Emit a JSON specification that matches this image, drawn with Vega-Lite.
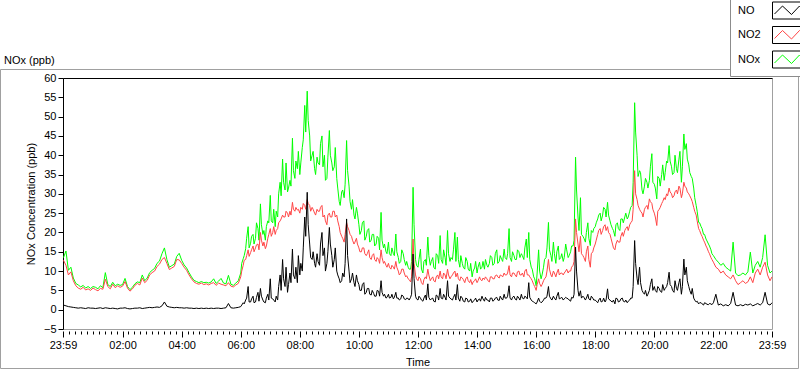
{
"$schema": "https://vega.github.io/schema/vega-lite/v6.json",
"width": 709, "height": 251,
"autosize": "none",
"padding": {"left": 63, "top": 78, "right": 28, "bottom": 40},
"background": "white",
"config": {"view": {"stroke": "#a0a0a0"}, "font": "Liberation Sans"},
"title": {"text": "NOx (ppb)", "anchor": "start", "frame": "group", "dx": -59, "dy": 78, "offset": 0, "fontSize": 11, "fontWeight": "normal", "baseline": "bottom", "color": "black"},
"data": {"format": {"parse": {"t": "date:'%H:%M'"}}, "values": [
{"t":"00:00","NO":1.2,"NO2":12.8,"NOx":13.5},{"t":"00:05","NO":1.0,"NO2":11.5,"NOx":15.2},{"t":"00:10","NO":0.8,"NO2":9.0,"NOx":10.2},{"t":"00:15","NO":0.7,"NO2":9.8,"NOx":11.0},{"t":"00:20","NO":0.6,"NO2":7.5,"NOx":8.2},{"t":"00:25","NO":0.5,"NO2":6.2,"NOx":6.8},{"t":"00:30","NO":0.4,"NO2":5.6,"NOx":6.4},{"t":"00:35","NO":0.5,"NO2":5.3,"NOx":5.9},{"t":"00:40","NO":0.4,"NO2":5.8,"NOx":6.3},{"t":"00:45","NO":0.3,"NO2":5.1,"NOx":5.6},{"t":"00:50","NO":0.5,"NO2":5.4,"NOx":6.0},{"t":"00:55","NO":0.4,"NO2":5.0,"NOx":5.5},
{"t":"01:00","NO":0.4,"NO2":5.6,"NOx":6.0},{"t":"01:05","NO":0.3,"NO2":5.2,"NOx":5.8},{"t":"01:10","NO":0.4,"NO2":4.9,"NOx":5.4},{"t":"01:15","NO":0.5,"NO2":5.5,"NOx":6.2},{"t":"01:20","NO":0.3,"NO2":5.3,"NOx":5.7},{"t":"01:25","NO":0.5,"NO2":7.9,"NOx":9.6},{"t":"01:30","NO":0.4,"NO2":6.0,"NOx":6.5},{"t":"01:35","NO":0.3,"NO2":5.4,"NOx":6.0},{"t":"01:40","NO":0.4,"NO2":6.6,"NOx":7.1},{"t":"01:45","NO":0.3,"NO2":5.7,"NOx":6.2},{"t":"01:50","NO":0.2,"NO2":6.2,"NOx":6.6},{"t":"01:55","NO":0.4,"NO2":5.8,"NOx":6.3},
{"t":"02:00","NO":0.4,"NO2":6.1,"NOx":6.5},{"t":"02:05","NO":0.5,"NO2":7.3,"NOx":8.1},{"t":"02:10","NO":0.3,"NO2":5.6,"NOx":6.0},{"t":"02:15","NO":0.2,"NO2":4.8,"NOx":5.2},{"t":"02:20","NO":0.3,"NO2":5.4,"NOx":5.8},{"t":"02:25","NO":0.4,"NO2":6.3,"NOx":6.7},{"t":"02:30","NO":0.4,"NO2":6.8,"NOx":7.2},{"t":"02:35","NO":0.5,"NO2":6.4,"NOx":7.0},{"t":"02:40","NO":0.3,"NO2":8.2,"NOx":9.0},{"t":"02:45","NO":0.4,"NO2":7.0,"NOx":7.5},{"t":"02:50","NO":0.5,"NO2":7.6,"NOx":8.2},{"t":"02:55","NO":0.6,"NO2":9.0,"NOx":9.6},
{"t":"03:00","NO":0.5,"NO2":9.6,"NOx":10.2},{"t":"03:05","NO":0.6,"NO2":10.0,"NOx":10.7},{"t":"03:10","NO":0.7,"NO2":11.2,"NOx":12.0},{"t":"03:15","NO":0.6,"NO2":11.8,"NOx":12.6},{"t":"03:20","NO":1.0,"NO2":13.0,"NOx":14.5},{"t":"03:25","NO":2.0,"NO2":13.5,"NOx":16.0},{"t":"03:30","NO":0.9,"NO2":12.0,"NOx":13.0},{"t":"03:35","NO":0.7,"NO2":10.4,"NOx":11.0},{"t":"03:40","NO":0.6,"NO2":10.8,"NOx":11.4},{"t":"03:45","NO":0.5,"NO2":11.2,"NOx":11.8},{"t":"03:50","NO":0.6,"NO2":13.0,"NOx":13.8},{"t":"03:55","NO":0.5,"NO2":12.9,"NOx":14.6},
{"t":"04:00","NO":0.5,"NO2":12.0,"NOx":12.8},{"t":"04:05","NO":0.4,"NO2":11.0,"NOx":11.6},{"t":"04:10","NO":0.5,"NO2":10.2,"NOx":10.8},{"t":"04:15","NO":0.4,"NO2":9.0,"NOx":9.6},{"t":"04:20","NO":0.4,"NO2":8.0,"NOx":8.5},{"t":"04:25","NO":0.3,"NO2":7.2,"NOx":7.6},{"t":"04:30","NO":0.4,"NO2":6.8,"NOx":7.3},{"t":"04:35","NO":0.3,"NO2":6.6,"NOx":7.0},{"t":"04:40","NO":0.4,"NO2":6.9,"NOx":7.3},{"t":"04:45","NO":0.3,"NO2":6.5,"NOx":7.0},{"t":"04:50","NO":0.4,"NO2":6.7,"NOx":7.1},{"t":"04:55","NO":0.3,"NO2":6.4,"NOx":6.9},
{"t":"05:00","NO":0.4,"NO2":6.8,"NOx":7.2},{"t":"05:05","NO":0.3,"NO2":7.0,"NOx":8.0},{"t":"05:10","NO":0.4,"NO2":6.3,"NOx":6.8},{"t":"05:15","NO":0.4,"NO2":6.9,"NOx":7.4},{"t":"05:20","NO":0.3,"NO2":6.6,"NOx":8.1},{"t":"05:25","NO":0.4,"NO2":6.4,"NOx":6.9},{"t":"05:30","NO":0.5,"NO2":6.2,"NOx":6.7},{"t":"05:35","NO":1.6,"NO2":7.0,"NOx":8.9},{"t":"05:40","NO":0.5,"NO2":6.1,"NOx":6.6},{"t":"05:45","NO":0.4,"NO2":5.9,"NOx":6.3},{"t":"05:50","NO":0.5,"NO2":6.4,"NOx":6.9},{"t":"05:55","NO":0.6,"NO2":6.8,"NOx":7.5},
{"t":"06:00","NO":0.8,"NO2":8.5,"NOx":9.5},{"t":"06:05","NO":1.8,"NO2":11.5,"NOx":13.2},{"t":"06:10","NO":2.5,"NO2":13.0,"NOx":15.8},{"t":"06:15","NO":6.0,"NO2":15.5,"NOx":21.5},{"t":"06:20","NO":2.0,"NO2":14.8,"NOx":17.2},{"t":"06:25","NO":3.5,"NO2":16.5,"NOx":19.5},{"t":"06:30","NO":2.0,"NO2":16.0,"NOx":18.5},{"t":"06:35","NO":4.5,"NO2":17.0,"NOx":21.0},{"t":"06:40","NO":5.5,"NO2":20.0,"NOx":27.4},{"t":"06:45","NO":2.5,"NO2":16.5,"NOx":19.5},{"t":"06:50","NO":1.8,"NO2":15.8,"NOx":18.0},{"t":"06:55","NO":4.0,"NO2":18.5,"NOx":23.0},
{"t":"07:00","NO":8.0,"NO2":21.0,"NOx":29.6},{"t":"07:05","NO":2.8,"NO2":20.0,"NOx":22.5},{"t":"07:10","NO":2.0,"NO2":19.5,"NOx":21.5},{"t":"07:15","NO":2.5,"NO2":21.0,"NOx":24.0},{"t":"07:20","NO":9.0,"NO2":23.0,"NOx":33.0},{"t":"07:25","NO":13.0,"NO2":24.5,"NOx":39.0},{"t":"07:30","NO":6.0,"NO2":24.0,"NOx":31.0},{"t":"07:35","NO":4.5,"NO2":25.0,"NOx":30.5},{"t":"07:40","NO":9.5,"NO2":25.5,"NOx":33.5},{"t":"07:45","NO":15.7,"NO2":27.8,"NOx":44.4},{"t":"07:50","NO":8.0,"NO2":25.5,"NOx":34.0},{"t":"07:55","NO":7.0,"NO2":25.8,"NOx":36.5},
{"t":"08:00","NO":9.0,"NO2":25.0,"NOx":35.0},{"t":"08:05","NO":10.0,"NO2":26.0,"NOx":42.0},{"t":"08:10","NO":24.0,"NO2":27.0,"NOx":52.9},{"t":"08:15","NO":30.4,"NO2":28.5,"NOx":56.6},{"t":"08:20","NO":17.0,"NO2":27.0,"NOx":45.0},{"t":"08:25","NO":13.0,"NO2":26.5,"NOx":40.0},{"t":"08:30","NO":12.0,"NO2":25.0,"NOx":36.5},{"t":"08:35","NO":14.5,"NO2":26.0,"NOx":39.5},{"t":"08:40","NO":11.5,"NO2":25.5,"NOx":37.5},{"t":"08:45","NO":20.0,"NO2":27.0,"NOx":45.0},{"t":"08:50","NO":16.0,"NO2":24.5,"NOx":40.0},{"t":"08:55","NO":12.0,"NO2":22.0,"NOx":34.0},
{"t":"09:00","NO":21.3,"NO2":25.0,"NOx":46.4},{"t":"09:05","NO":14.0,"NO2":24.0,"NOx":38.0},{"t":"09:10","NO":13.0,"NO2":25.5,"NOx":37.0},{"t":"09:15","NO":10.0,"NO2":24.5,"NOx":34.0},{"t":"09:20","NO":8.0,"NO2":21.5,"NOx":28.0},{"t":"09:25","NO":7.5,"NO2":19.0,"NOx":30.5},{"t":"09:30","NO":8.5,"NO2":17.5,"NOx":29.0},{"t":"09:35","NO":23.5,"NO2":22.6,"NOx":43.8},{"t":"09:40","NO":10.0,"NO2":20.5,"NOx":32.0},{"t":"09:45","NO":8.0,"NO2":19.0,"NOx":26.0},{"t":"09:50","NO":7.0,"NO2":17.0,"NOx":24.5},{"t":"09:55","NO":9.0,"NO2":18.5,"NOx":26.5},
{"t":"10:00","NO":6.5,"NO2":16.0,"NOx":22.0},{"t":"10:05","NO":5.0,"NO2":15.0,"NOx":20.5},{"t":"10:10","NO":7.0,"NO2":16.0,"NOx":23.0},{"t":"10:15","NO":4.5,"NO2":14.0,"NOx":19.0},{"t":"10:20","NO":5.5,"NO2":15.5,"NOx":21.0},{"t":"10:25","NO":3.8,"NO2":13.0,"NOx":18.0},{"t":"10:30","NO":4.2,"NO2":14.5,"NOx":19.5},{"t":"10:35","NO":3.5,"NO2":12.5,"NOx":17.0},{"t":"10:40","NO":4.8,"NO2":13.0,"NOx":18.5},{"t":"10:45","NO":7.5,"NO2":15.5,"NOx":25.2},{"t":"10:50","NO":3.5,"NO2":12.0,"NOx":16.0},{"t":"10:55","NO":3.0,"NO2":11.5,"NOx":15.0},
{"t":"11:00","NO":4.0,"NO2":12.0,"NOx":17.5},{"t":"11:05","NO":3.2,"NO2":10.5,"NOx":14.0},{"t":"11:10","NO":2.8,"NO2":11.0,"NOx":14.5},{"t":"11:15","NO":4.5,"NO2":12.5,"NOx":19.6},{"t":"11:20","NO":3.0,"NO2":10.0,"NOx":13.5},{"t":"11:25","NO":2.8,"NO2":9.5,"NOx":12.5},{"t":"11:30","NO":3.5,"NO2":10.5,"NOx":14.5},{"t":"11:35","NO":2.6,"NO2":8.5,"NOx":11.5},{"t":"11:40","NO":2.9,"NO2":8.0,"NOx":11.0},{"t":"11:45","NO":3.2,"NO2":7.2,"NOx":10.5},{"t":"11:50","NO":14.4,"NO2":18.3,"NOx":31.7},{"t":"11:55","NO":3.5,"NO2":9.0,"NOx":13.0},
{"t":"12:00","NO":2.5,"NO2":7.5,"NOx":11.0},{"t":"12:05","NO":3.0,"NO2":8.0,"NOx":15.7},{"t":"12:10","NO":2.2,"NO2":6.5,"NOx":9.5},{"t":"12:15","NO":3.8,"NO2":8.5,"NOx":13.0},{"t":"12:20","NO":6.7,"NO2":10.5,"NOx":18.8},{"t":"12:25","NO":2.5,"NO2":7.5,"NOx":11.5},{"t":"12:30","NO":3.0,"NO2":8.5,"NOx":13.5},{"t":"12:35","NO":2.0,"NO2":7.2,"NOx":10.5},{"t":"12:40","NO":3.5,"NO2":9.0,"NOx":14.0},{"t":"12:45","NO":5.5,"NO2":10.0,"NOx":19.2},{"t":"12:50","NO":2.8,"NO2":8.0,"NOx":12.0},{"t":"12:55","NO":3.2,"NO2":9.0,"NOx":13.5},
{"t":"13:00","NO":7.5,"NO2":10.5,"NOx":20.5},{"t":"13:05","NO":3.0,"NO2":8.0,"NOx":12.5},{"t":"13:10","NO":2.5,"NO2":9.0,"NOx":13.0},{"t":"13:15","NO":4.0,"NO2":10.0,"NOx":20.0},{"t":"13:20","NO":6.5,"NO2":9.5,"NOx":18.8},{"t":"13:25","NO":2.2,"NO2":7.5,"NOx":11.0},{"t":"13:30","NO":3.0,"NO2":8.2,"NOx":12.0},{"t":"13:35","NO":2.0,"NO2":7.0,"NOx":10.5},{"t":"13:40","NO":2.8,"NO2":8.5,"NOx":12.5},{"t":"13:45","NO":2.2,"NO2":7.0,"NOx":10.0},{"t":"13:50","NO":1.8,"NO2":6.5,"NOx":8.5},{"t":"13:55","NO":2.5,"NO2":7.5,"NOx":10.8},
{"t":"14:00","NO":2.0,"NO2":7.0,"NOx":9.5},{"t":"14:05","NO":2.8,"NO2":8.5,"NOx":12.3},{"t":"14:10","NO":3.5,"NO2":7.5,"NOx":11.0},{"t":"14:15","NO":2.2,"NO2":7.8,"NOx":10.5},{"t":"14:20","NO":2.5,"NO2":8.0,"NOx":11.5},{"t":"14:25","NO":2.0,"NO2":7.2,"NOx":12.0},{"t":"14:30","NO":3.0,"NO2":8.5,"NOx":13.5},{"t":"14:35","NO":2.5,"NO2":8.0,"NOx":12.0},{"t":"14:40","NO":3.2,"NO2":9.0,"NOx":15.5},{"t":"14:45","NO":2.4,"NO2":8.2,"NOx":12.5},{"t":"14:50","NO":2.8,"NO2":8.8,"NOx":13.0},{"t":"14:55","NO":4.0,"NO2":9.5,"NOx":15.7},
{"t":"15:00","NO":3.0,"NO2":9.0,"NOx":13.0},{"t":"15:05","NO":6.2,"NO2":11.4,"NOx":21.0},{"t":"15:10","NO":2.5,"NO2":8.5,"NOx":12.5},{"t":"15:15","NO":3.5,"NO2":9.5,"NOx":14.0},{"t":"15:20","NO":2.5,"NO2":8.5,"NOx":13.0},{"t":"15:25","NO":3.0,"NO2":10.0,"NOx":15.0},{"t":"15:30","NO":4.0,"NO2":9.0,"NOx":14.5},{"t":"15:35","NO":2.8,"NO2":8.5,"NOx":13.0},{"t":"15:40","NO":3.2,"NO2":10.5,"NOx":18.3},{"t":"15:45","NO":7.0,"NO2":9.0,"NOx":20.0},{"t":"15:50","NO":2.5,"NO2":8.0,"NOx":11.0},{"t":"15:55","NO":2.0,"NO2":6.5,"NOx":8.5},
{"t":"16:00","NO":1.5,"NO2":5.0,"NOx":6.2},{"t":"16:05","NO":3.0,"NO2":8.0,"NOx":15.5},{"t":"16:10","NO":1.8,"NO2":6.0,"NOx":8.0},{"t":"16:15","NO":2.5,"NO2":7.5,"NOx":11.0},{"t":"16:20","NO":3.0,"NO2":8.5,"NOx":13.5},{"t":"16:25","NO":6.0,"NO2":13.0,"NOx":22.6},{"t":"16:30","NO":2.8,"NO2":9.0,"NOx":14.0},{"t":"16:35","NO":3.5,"NO2":10.0,"NOx":17.5},{"t":"16:40","NO":2.5,"NO2":8.5,"NOx":12.0},{"t":"16:45","NO":4.5,"NO2":10.5,"NOx":16.5},{"t":"16:50","NO":3.0,"NO2":9.5,"NOx":13.5},{"t":"16:55","NO":2.5,"NO2":9.0,"NOx":12.5},
{"t":"17:00","NO":3.2,"NO2":10.0,"NOx":17.0},{"t":"17:05","NO":2.8,"NO2":9.5,"NOx":13.5},{"t":"17:10","NO":2.2,"NO2":10.0,"NOx":15.0},{"t":"17:15","NO":3.0,"NO2":11.5,"NOx":16.5},{"t":"17:20","NO":16.2,"NO2":23.5,"NOx":39.5},{"t":"17:25","NO":5.0,"NO2":17.0,"NOx":24.0},{"t":"17:30","NO":4.9,"NO2":19.0,"NOx":29.0},{"t":"17:35","NO":3.5,"NO2":14.0,"NOx":19.0},{"t":"17:40","NO":2.5,"NO2":12.5,"NOx":17.5},{"t":"17:45","NO":4.0,"NO2":16.5,"NOx":22.5},{"t":"17:50","NO":2.5,"NO2":11.0,"NOx":16.6},{"t":"17:55","NO":3.0,"NO2":15.0,"NOx":20.0},
{"t":"18:00","NO":2.5,"NO2":17.0,"NOx":21.5},{"t":"18:05","NO":1.8,"NO2":19.5,"NOx":23.5},{"t":"18:10","NO":3.0,"NO2":21.0,"NOx":25.0},{"t":"18:15","NO":2.2,"NO2":20.5,"NOx":24.5},{"t":"18:20","NO":2.0,"NO2":22.0,"NOx":26.0},{"t":"18:25","NO":5.4,"NO2":21.5,"NOx":27.8},{"t":"18:30","NO":2.5,"NO2":19.5,"NOx":23.0},{"t":"18:35","NO":2.0,"NO2":17.0,"NOx":21.0},{"t":"18:40","NO":1.5,"NO2":15.5,"NOx":19.0},{"t":"18:45","NO":2.8,"NO2":18.0,"NOx":22.5},{"t":"18:50","NO":2.2,"NO2":17.5,"NOx":20.5},{"t":"18:55","NO":3.0,"NO2":20.0,"NOx":23.5},
{"t":"19:00","NO":2.0,"NO2":20.5,"NOx":24.0},{"t":"19:05","NO":1.8,"NO2":21.5,"NOx":23.5},{"t":"19:10","NO":2.5,"NO2":22.0,"NOx":25.5},{"t":"19:15","NO":3.0,"NO2":23.0,"NOx":27.0},{"t":"19:20","NO":17.9,"NO2":36.0,"NOx":53.6},{"t":"19:25","NO":8.0,"NO2":28.5,"NOx":40.0},{"t":"19:30","NO":11.0,"NO2":26.0,"NOx":36.0},{"t":"19:35","NO":5.0,"NO2":25.0,"NOx":31.0},{"t":"19:40","NO":4.0,"NO2":26.0,"NOx":32.0},{"t":"19:45","NO":3.5,"NO2":27.0,"NOx":33.0},{"t":"19:50","NO":5.0,"NO2":28.7,"NOx":33.5},{"t":"19:55","NO":8.0,"NO2":27.5,"NOx":40.4},
{"t":"20:00","NO":6.0,"NO2":25.0,"NOx":32.5},{"t":"20:05","NO":4.5,"NO2":21.8,"NOx":28.7},{"t":"20:10","NO":5.5,"NO2":26.0,"NOx":34.0},{"t":"20:15","NO":4.5,"NO2":27.5,"NOx":35.0},{"t":"20:20","NO":5.0,"NO2":29.0,"NOx":33.5},{"t":"20:25","NO":6.0,"NO2":30.0,"NOx":38.5},{"t":"20:30","NO":9.7,"NO2":31.5,"NOx":42.5},{"t":"20:35","NO":6.0,"NO2":30.0,"NOx":37.0},{"t":"20:40","NO":4.5,"NO2":29.5,"NOx":35.5},{"t":"20:45","NO":5.5,"NO2":31.0,"NOx":36.5},{"t":"20:50","NO":7.0,"NO2":32.0,"NOx":39.0},{"t":"20:55","NO":4.0,"NO2":29.0,"NOx":33.0},
{"t":"21:00","NO":13.1,"NO2":33.0,"NOx":45.5},{"t":"21:05","NO":11.0,"NO2":31.5,"NOx":43.0},{"t":"21:10","NO":6.0,"NO2":30.0,"NOx":37.5},{"t":"21:15","NO":4.0,"NO2":28.7,"NOx":34.5},{"t":"21:20","NO":3.0,"NO2":26.5,"NOx":31.5},{"t":"21:25","NO":2.0,"NO2":24.5,"NOx":27.0},{"t":"21:30","NO":1.5,"NO2":21.0,"NOx":22.6},{"t":"21:35","NO":1.8,"NO2":19.5,"NOx":21.5},{"t":"21:40","NO":1.2,"NO2":18.0,"NOx":19.5},{"t":"21:45","NO":1.6,"NO2":16.5,"NOx":18.3},{"t":"21:50","NO":1.3,"NO2":15.0,"NOx":17.0},{"t":"21:55","NO":1.5,"NO2":13.5,"NOx":15.5},
{"t":"22:00","NO":1.8,"NO2":12.3,"NOx":14.0},{"t":"22:05","NO":4.0,"NO2":11.0,"NOx":13.0},{"t":"22:10","NO":1.2,"NO2":10.5,"NOx":12.3},{"t":"22:15","NO":1.5,"NO2":9.5,"NOx":11.5},{"t":"22:20","NO":1.0,"NO2":10.0,"NOx":12.0},{"t":"22:25","NO":1.3,"NO2":9.0,"NOx":11.0},{"t":"22:30","NO":1.0,"NO2":8.5,"NOx":10.5},{"t":"22:35","NO":1.6,"NO2":8.0,"NOx":10.0},{"t":"22:40","NO":4.5,"NO2":9.0,"NOx":17.5},{"t":"22:45","NO":1.2,"NO2":7.5,"NOx":9.5},{"t":"22:50","NO":1.0,"NO2":6.5,"NOx":8.8},{"t":"22:55","NO":1.3,"NO2":7.0,"NOx":9.0},
{"t":"23:00","NO":1.0,"NO2":7.5,"NOx":9.5},{"t":"23:05","NO":1.4,"NO2":6.8,"NOx":9.0},{"t":"23:10","NO":1.2,"NO2":7.2,"NOx":9.8},{"t":"23:15","NO":1.5,"NO2":8.5,"NOx":14.9},{"t":"23:20","NO":1.0,"NO2":7.0,"NOx":9.5},{"t":"23:25","NO":1.3,"NO2":9.5,"NOx":11.5},{"t":"23:30","NO":1.6,"NO2":10.5,"NOx":12.5},{"t":"23:35","NO":1.2,"NO2":9.0,"NOx":11.0},{"t":"23:40","NO":1.8,"NO2":11.0,"NOx":13.5},{"t":"23:45","NO":4.5,"NO2":12.3,"NOx":19.4},{"t":"23:50","NO":1.5,"NO2":9.0,"NOx":11.5},{"t":"23:55","NO":1.2,"NO2":7.5,"NOx":9.5},{"t":"23:59","NO":1.8,"NO2":8.5,"NOx":10.0},
{"t":"06:02","NO":1.2,"NO2":10.0,"NOx":12.0},{"t":"06:07","NO":1.5,"NO2":12.8,"NOx":14.0},{"t":"06:12","NO":3.0,"NO2":14.0,"NOx":18.5},{"t":"06:17","NO":2.0,"NO2":13.8,"NOx":16.0},{"t":"06:22","NO":2.8,"NO2":15.5,"NOx":19.0},{"t":"06:27","NO":1.8,"NO2":15.0,"NOx":17.0},{"t":"06:32","NO":3.2,"NO2":16.8,"NOx":22.5},{"t":"06:37","NO":2.2,"NO2":15.5,"NOx":18.0},{"t":"06:42","NO":3.5,"NO2":18.0,"NOx":22.0},{"t":"06:47","NO":2.0,"NO2":17.5,"NOx":20.5},{"t":"06:52","NO":3.0,"NO2":16.5,"NOx":21.5},{"t":"06:57","NO":2.5,"NO2":19.5,"NOx":22.5},
{"t":"07:02","NO":3.0,"NO2":19.0,"NOx":23.0},{"t":"07:07","NO":2.5,"NO2":21.5,"NOx":26.0},{"t":"07:12","NO":3.5,"NO2":20.5,"NOx":25.5},{"t":"07:17","NO":6.0,"NO2":22.5,"NOx":30.0},{"t":"07:22","NO":5.0,"NO2":23.5,"NOx":29.5},{"t":"07:27","NO":8.0,"NO2":24.0,"NOx":33.0},{"t":"07:32","NO":11.0,"NO2":25.5,"NOx":38.0},{"t":"07:37","NO":6.5,"NO2":24.0,"NOx":31.5},{"t":"07:42","NO":7.0,"NO2":24.5,"NOx":32.0},{"t":"07:47","NO":9.0,"NO2":26.0,"NOx":36.0},{"t":"07:52","NO":11.0,"NO2":26.5,"NOx":38.5},{"t":"07:57","NO":14.0,"NO2":26.0,"NOx":41.0},
{"t":"08:02","NO":12.0,"NO2":26.5,"NOx":38.0},{"t":"08:07","NO":16.0,"NO2":27.5,"NOx":44.0},{"t":"08:12","NO":19.0,"NO2":26.0,"NOx":46.0},{"t":"08:17","NO":22.0,"NO2":27.5,"NOx":49.0},{"t":"08:22","NO":13.5,"NO2":25.5,"NOx":38.5},{"t":"08:27","NO":15.0,"NO2":26.0,"NOx":41.0},{"t":"08:32","NO":11.0,"NO2":24.5,"NOx":35.0},{"t":"08:37","NO":12.5,"NO2":25.5,"NOx":38.0},{"t":"08:42","NO":17.0,"NO2":26.5,"NOx":43.0},{"t":"08:47","NO":14.0,"NO2":24.0,"NOx":37.0},{"t":"08:52","NO":10.0,"NO2":23.0,"NOx":33.5},{"t":"08:57","NO":15.0,"NO2":24.5,"NOx":39.5},
{"t":"09:02","NO":17.0,"NO2":24.0,"NOx":40.0},{"t":"09:07","NO":11.0,"NO2":25.5,"NOx":36.0},{"t":"09:12","NO":16.0,"NO2":24.0,"NOx":42.0},{"t":"09:17","NO":9.0,"NO2":23.0,"NOx":31.5},{"t":"09:22","NO":7.0,"NO2":20.0,"NOx":27.0},{"t":"09:27","NO":9.5,"NO2":18.5,"NOx":31.0},{"t":"09:32","NO":12.0,"NO2":19.5,"NOx":32.5},{"t":"09:37","NO":14.0,"NO2":21.5,"NOx":36.0},{"t":"09:42","NO":7.0,"NO2":19.5,"NOx":28.0},{"t":"09:47","NO":9.5,"NO2":18.0,"NOx":28.5},{"t":"09:52","NO":6.0,"NO2":17.5,"NOx":23.5},{"t":"09:57","NO":7.5,"NO2":17.0,"NOx":25.0},
{"t":"10:02","NO":5.0,"NO2":15.0,"NOx":19.5},{"t":"10:07","NO":6.5,"NO2":16.0,"NOx":22.5},{"t":"10:12","NO":4.0,"NO2":14.5,"NOx":18.0},{"t":"10:17","NO":5.5,"NO2":14.5,"NOx":20.5},{"t":"10:22","NO":4.0,"NO2":13.5,"NOx":17.5},{"t":"10:27","NO":5.0,"NO2":14.0,"NOx":19.5},{"t":"10:32","NO":3.5,"NO2":13.0,"NOx":16.5},{"t":"10:37","NO":5.0,"NO2":13.5,"NOx":19.0},{"t":"10:42","NO":3.5,"NO2":12.0,"NOx":15.5},{"t":"10:47","NO":4.5,"NO2":13.5,"NOx":18.0},{"t":"10:52","NO":4.0,"NO2":12.5,"NOx":17.0},{"t":"10:57","NO":3.2,"NO2":11.0,"NOx":14.5},
{"t":"11:02","NO":3.0,"NO2":11.0,"NOx":14.5},{"t":"11:07","NO":4.0,"NO2":11.5,"NOx":16.0},{"t":"11:12","NO":3.2,"NO2":10.5,"NOx":14.0},{"t":"11:17","NO":3.0,"NO2":11.0,"NOx":15.0},{"t":"11:22","NO":2.5,"NO2":9.0,"NOx":12.0},{"t":"11:27","NO":3.8,"NO2":10.5,"NOx":15.5},{"t":"11:32","NO":2.8,"NO2":9.5,"NOx":13.0},{"t":"11:37","NO":3.0,"NO2":8.8,"NOx":12.5},{"t":"11:42","NO":2.5,"NO2":7.8,"NOx":10.5},{"t":"11:47","NO":4.0,"NO2":8.5,"NOx":12.5},{"t":"11:52","NO":8.0,"NO2":12.0,"NOx":22.0},{"t":"11:57","NO":2.8,"NO2":8.0,"NOx":11.5},
{"t":"12:02","NO":3.5,"NO2":8.5,"NOx":13.0},{"t":"12:07","NO":2.5,"NO2":7.0,"NOx":10.5},{"t":"12:12","NO":3.0,"NO2":7.8,"NOx":12.5},{"t":"12:17","NO":2.5,"NO2":8.0,"NOx":11.5},{"t":"12:22","NO":3.2,"NO2":9.0,"NOx":14.0},{"t":"12:27","NO":2.8,"NO2":8.0,"NOx":12.5},{"t":"12:32","NO":2.2,"NO2":7.5,"NOx":11.0},{"t":"12:37","NO":3.8,"NO2":8.5,"NOx":14.5},{"t":"12:42","NO":2.5,"NO2":8.0,"NOx":12.0},{"t":"12:47","NO":3.0,"NO2":8.5,"NOx":13.0},{"t":"12:52","NO":4.0,"NO2":9.5,"NOx":15.5},{"t":"12:57","NO":2.5,"NO2":8.0,"NOx":11.5},
{"t":"13:02","NO":3.5,"NO2":9.0,"NOx":14.5},{"t":"13:07","NO":2.8,"NO2":8.5,"NOx":13.5},{"t":"13:12","NO":3.2,"NO2":9.5,"NOx":15.5},{"t":"13:17","NO":2.5,"NO2":8.5,"NOx":12.5},{"t":"13:22","NO":3.0,"NO2":8.0,"NOx":13.0},{"t":"13:27","NO":3.5,"NO2":8.5,"NOx":14.0},{"t":"13:32","NO":2.2,"NO2":7.8,"NOx":11.0},{"t":"13:37","NO":3.0,"NO2":8.0,"NOx":13.5},{"t":"13:42","NO":2.0,"NO2":7.5,"NOx":10.5},{"t":"13:47","NO":2.8,"NO2":7.8,"NOx":12.0},{"t":"13:52","NO":2.2,"NO2":7.2,"NOx":10.0},{"t":"13:57","NO":3.0,"NO2":8.0,"NOx":12.5},
{"t":"14:02","NO":2.5,"NO2":7.5,"NOx":11.0},{"t":"14:07","NO":2.2,"NO2":7.8,"NOx":10.5},{"t":"14:12","NO":2.8,"NO2":8.2,"NOx":12.5},{"t":"14:17","NO":3.2,"NO2":8.5,"NOx":13.0},{"t":"14:22","NO":2.5,"NO2":7.5,"NOx":11.0},{"t":"14:27","NO":3.0,"NO2":8.5,"NOx":14.0},{"t":"14:32","NO":2.2,"NO2":8.0,"NOx":11.5},{"t":"14:37","NO":3.0,"NO2":8.8,"NOx":14.5},{"t":"14:42","NO":2.5,"NO2":8.5,"NOx":12.0},{"t":"14:47","NO":3.5,"NO2":9.0,"NOx":14.0},{"t":"14:52","NO":2.5,"NO2":8.5,"NOx":12.5},{"t":"14:57","NO":3.0,"NO2":9.0,"NOx":13.5},
{"t":"15:02","NO":3.5,"NO2":9.5,"NOx":14.5},{"t":"15:07","NO":3.0,"NO2":9.0,"NOx":13.5},{"t":"15:12","NO":3.2,"NO2":9.5,"NOx":15.0},{"t":"15:17","NO":2.8,"NO2":9.0,"NOx":13.0},{"t":"15:22","NO":3.5,"NO2":9.8,"NOx":15.5},{"t":"15:27","NO":2.5,"NO2":9.0,"NOx":13.5},{"t":"15:32","NO":3.0,"NO2":9.5,"NOx":14.0},{"t":"15:37","NO":3.5,"NO2":10.0,"NOx":16.0},{"t":"15:42","NO":2.8,"NO2":9.0,"NOx":13.5},{"t":"15:47","NO":3.2,"NO2":8.5,"NOx":13.0},{"t":"15:52","NO":2.2,"NO2":7.5,"NOx":10.5},{"t":"15:57","NO":1.8,"NO2":6.0,"NOx":8.0},
{"t":"16:02","NO":2.0,"NO2":6.5,"NOx":9.5},{"t":"16:07","NO":2.2,"NO2":6.8,"NOx":10.0},{"t":"16:12","NO":2.0,"NO2":6.5,"NOx":9.0},{"t":"16:17","NO":3.0,"NO2":8.0,"NOx":13.0},{"t":"16:22","NO":3.5,"NO2":10.0,"NOx":16.0},{"t":"16:27","NO":3.5,"NO2":10.5,"NOx":15.5},{"t":"16:32","NO":2.5,"NO2":8.5,"NOx":12.5},{"t":"16:37","NO":3.0,"NO2":9.5,"NOx":14.5},{"t":"16:42","NO":3.5,"NO2":9.5,"NOx":15.0},{"t":"16:47","NO":2.8,"NO2":9.0,"NOx":13.0},{"t":"16:52","NO":3.2,"NO2":9.5,"NOx":14.5},{"t":"16:57","NO":2.8,"NO2":9.5,"NOx":13.5},
{"t":"17:02","NO":3.0,"NO2":10.5,"NOx":15.5},{"t":"17:07","NO":2.5,"NO2":10.0,"NOx":14.0},{"t":"17:12","NO":3.2,"NO2":11.0,"NOx":16.5},{"t":"17:17","NO":4.0,"NO2":12.5,"NOx":18.0},{"t":"17:22","NO":10.0,"NO2":20.0,"NOx":31.0},{"t":"17:27","NO":3.5,"NO2":15.0,"NOx":20.5},{"t":"17:32","NO":3.0,"NO2":14.5,"NOx":19.5},{"t":"17:37","NO":3.2,"NO2":13.5,"NOx":18.5},{"t":"17:42","NO":3.0,"NO2":15.0,"NOx":20.0},{"t":"17:47","NO":2.8,"NO2":13.0,"NOx":18.5},{"t":"17:52","NO":3.5,"NO2":14.5,"NOx":20.5},{"t":"17:57","NO":2.5,"NO2":16.0,"NOx":21.0},
{"t":"18:02","NO":2.2,"NO2":18.0,"NOx":22.5},{"t":"18:07","NO":2.5,"NO2":20.5,"NOx":24.5},{"t":"18:12","NO":2.0,"NO2":19.5,"NOx":23.0},{"t":"18:17","NO":3.0,"NO2":21.5,"NOx":26.5},{"t":"18:22","NO":2.5,"NO2":20.5,"NOx":24.0},{"t":"18:27","NO":2.8,"NO2":20.0,"NOx":24.5},{"t":"18:32","NO":2.2,"NO2":18.5,"NOx":22.0},{"t":"18:37","NO":2.5,"NO2":16.0,"NOx":20.5},{"t":"18:42","NO":3.0,"NO2":17.0,"NOx":22.0},{"t":"18:47","NO":2.0,"NO2":17.5,"NOx":21.0},{"t":"18:52","NO":2.8,"NO2":19.0,"NOx":23.5},{"t":"18:57","NO":2.2,"NO2":19.0,"NOx":22.5},
{"t":"19:02","NO":2.5,"NO2":21.0,"NOx":25.0},{"t":"19:07","NO":2.2,"NO2":20.5,"NOx":24.0},{"t":"19:12","NO":3.0,"NO2":22.5,"NOx":26.5},{"t":"19:17","NO":6.0,"NO2":26.0,"NOx":33.0},{"t":"19:22","NO":12.0,"NO2":30.0,"NOx":46.0},{"t":"19:27","NO":6.5,"NO2":27.0,"NOx":34.5},{"t":"19:32","NO":7.0,"NO2":25.5,"NOx":35.5},{"t":"19:37","NO":4.5,"NO2":24.0,"NOx":30.0},{"t":"19:42","NO":5.0,"NO2":26.5,"NOx":34.0},{"t":"19:47","NO":4.0,"NO2":26.0,"NOx":31.5},{"t":"19:52","NO":6.5,"NO2":28.0,"NOx":37.0},{"t":"19:57","NO":5.0,"NO2":26.0,"NOx":33.0},
{"t":"20:02","NO":5.0,"NO2":24.0,"NOx":31.5},{"t":"20:07","NO":6.0,"NO2":25.5,"NOx":34.5},{"t":"20:12","NO":4.8,"NO2":26.5,"NOx":32.0},{"t":"20:17","NO":6.5,"NO2":28.0,"NOx":37.5},{"t":"20:22","NO":5.5,"NO2":28.5,"NOx":35.5},{"t":"20:27","NO":7.0,"NO2":29.5,"NOx":38.0},{"t":"20:32","NO":6.5,"NO2":30.5,"NOx":38.5},{"t":"20:37","NO":5.0,"NO2":29.0,"NOx":35.0},{"t":"20:42","NO":7.5,"NO2":30.5,"NOx":40.0},{"t":"20:47","NO":5.0,"NO2":30.0,"NOx":35.5},{"t":"20:52","NO":8.0,"NO2":31.5,"NOx":41.0},{"t":"20:57","NO":6.0,"NO2":30.0,"NOx":37.0},
{"t":"21:02","NO":9.0,"NO2":32.0,"NOx":41.5},{"t":"21:07","NO":7.5,"NO2":30.5,"NOx":39.0},{"t":"21:12","NO":5.0,"NO2":29.5,"NOx":35.5},{"t":"21:17","NO":5.5,"NO2":28.0,"NOx":34.0},{"t":"21:22","NO":2.5,"NO2":25.5,"NOx":29.0},{"t":"21:27","NO":2.2,"NO2":23.0,"NOx":25.5},{"t":"21:32","NO":1.8,"NO2":20.5,"NOx":22.5},{"t":"21:37","NO":1.5,"NO2":19.0,"NOx":21.0},{"t":"21:42","NO":1.8,"NO2":17.5,"NOx":19.5},{"t":"21:47","NO":1.4,"NO2":16.0,"NOx":17.8},{"t":"21:52","NO":1.6,"NO2":14.5,"NOx":16.5},{"t":"21:57","NO":1.3,"NO2":13.0,"NOx":14.5}
]},
"transform": [{"fold": ["NOx", "NO2", "NO"], "as": ["series", "value"]}],
"encoding": {
"x": {"field": "t", "type": "temporal",
 "scale": {"domain": [{"year":1899,"month":12,"date":31,"hours":23,"minutes":59},{"year":1900,"month":1,"date":1,"hours":23,"minutes":59}]},
 "axis": {
  "values": [{"year":1899,"month":12,"date":31,"hours":23,"minutes":59},
{"year":1900,"hours":0,"minutes":12},{"year":1900,"hours":0,"minutes":24},{"year":1900,"hours":0,"minutes":36},{"year":1900,"hours":0,"minutes":48},
{"year":1900,"hours":1,"minutes":0},{"year":1900,"hours":1,"minutes":12},{"year":1900,"hours":1,"minutes":24},{"year":1900,"hours":1,"minutes":36},{"year":1900,"hours":1,"minutes":48},
{"year":1900,"hours":2,"minutes":0},{"year":1900,"hours":2,"minutes":12},{"year":1900,"hours":2,"minutes":24},{"year":1900,"hours":2,"minutes":36},{"year":1900,"hours":2,"minutes":48},
{"year":1900,"hours":3,"minutes":0},{"year":1900,"hours":3,"minutes":12},{"year":1900,"hours":3,"minutes":24},{"year":1900,"hours":3,"minutes":36},{"year":1900,"hours":3,"minutes":48},
{"year":1900,"hours":4,"minutes":0},{"year":1900,"hours":4,"minutes":12},{"year":1900,"hours":4,"minutes":24},{"year":1900,"hours":4,"minutes":36},{"year":1900,"hours":4,"minutes":48},
{"year":1900,"hours":5,"minutes":0},{"year":1900,"hours":5,"minutes":12},{"year":1900,"hours":5,"minutes":24},{"year":1900,"hours":5,"minutes":36},{"year":1900,"hours":5,"minutes":48},
{"year":1900,"hours":6,"minutes":0},{"year":1900,"hours":6,"minutes":12},{"year":1900,"hours":6,"minutes":24},{"year":1900,"hours":6,"minutes":36},{"year":1900,"hours":6,"minutes":48},
{"year":1900,"hours":7,"minutes":0},{"year":1900,"hours":7,"minutes":12},{"year":1900,"hours":7,"minutes":24},{"year":1900,"hours":7,"minutes":36},{"year":1900,"hours":7,"minutes":48},
{"year":1900,"hours":8,"minutes":0},{"year":1900,"hours":8,"minutes":12},{"year":1900,"hours":8,"minutes":24},{"year":1900,"hours":8,"minutes":36},{"year":1900,"hours":8,"minutes":48},
{"year":1900,"hours":9,"minutes":0},{"year":1900,"hours":9,"minutes":12},{"year":1900,"hours":9,"minutes":24},{"year":1900,"hours":9,"minutes":36},{"year":1900,"hours":9,"minutes":48},
{"year":1900,"hours":10,"minutes":0},{"year":1900,"hours":10,"minutes":12},{"year":1900,"hours":10,"minutes":24},{"year":1900,"hours":10,"minutes":36},{"year":1900,"hours":10,"minutes":48},
{"year":1900,"hours":11,"minutes":0},{"year":1900,"hours":11,"minutes":12},{"year":1900,"hours":11,"minutes":24},{"year":1900,"hours":11,"minutes":36},{"year":1900,"hours":11,"minutes":48},
{"year":1900,"hours":12,"minutes":0},{"year":1900,"hours":12,"minutes":12},{"year":1900,"hours":12,"minutes":24},{"year":1900,"hours":12,"minutes":36},{"year":1900,"hours":12,"minutes":48},
{"year":1900,"hours":13,"minutes":0},{"year":1900,"hours":13,"minutes":12},{"year":1900,"hours":13,"minutes":24},{"year":1900,"hours":13,"minutes":36},{"year":1900,"hours":13,"minutes":48},
{"year":1900,"hours":14,"minutes":0},{"year":1900,"hours":14,"minutes":12},{"year":1900,"hours":14,"minutes":24},{"year":1900,"hours":14,"minutes":36},{"year":1900,"hours":14,"minutes":48},
{"year":1900,"hours":15,"minutes":0},{"year":1900,"hours":15,"minutes":12},{"year":1900,"hours":15,"minutes":24},{"year":1900,"hours":15,"minutes":36},{"year":1900,"hours":15,"minutes":48},
{"year":1900,"hours":16,"minutes":0},{"year":1900,"hours":16,"minutes":12},{"year":1900,"hours":16,"minutes":24},{"year":1900,"hours":16,"minutes":36},{"year":1900,"hours":16,"minutes":48},
{"year":1900,"hours":17,"minutes":0},{"year":1900,"hours":17,"minutes":12},{"year":1900,"hours":17,"minutes":24},{"year":1900,"hours":17,"minutes":36},{"year":1900,"hours":17,"minutes":48},
{"year":1900,"hours":18,"minutes":0},{"year":1900,"hours":18,"minutes":12},{"year":1900,"hours":18,"minutes":24},{"year":1900,"hours":18,"minutes":36},{"year":1900,"hours":18,"minutes":48},
{"year":1900,"hours":19,"minutes":0},{"year":1900,"hours":19,"minutes":12},{"year":1900,"hours":19,"minutes":24},{"year":1900,"hours":19,"minutes":36},{"year":1900,"hours":19,"minutes":48},
{"year":1900,"hours":20,"minutes":0},{"year":1900,"hours":20,"minutes":12},{"year":1900,"hours":20,"minutes":24},{"year":1900,"hours":20,"minutes":36},{"year":1900,"hours":20,"minutes":48},
{"year":1900,"hours":21,"minutes":0},{"year":1900,"hours":21,"minutes":12},{"year":1900,"hours":21,"minutes":24},{"year":1900,"hours":21,"minutes":36},{"year":1900,"hours":21,"minutes":48},
{"year":1900,"hours":22,"minutes":0},{"year":1900,"hours":22,"minutes":12},{"year":1900,"hours":22,"minutes":24},{"year":1900,"hours":22,"minutes":36},{"year":1900,"hours":22,"minutes":48},
{"year":1900,"hours":23,"minutes":0},{"year":1900,"hours":23,"minutes":12},{"year":1900,"hours":23,"minutes":24},{"year":1900,"hours":23,"minutes":36},{"year":1900,"hours":23,"minutes":48},
{"year":1900,"hours":23,"minutes":59}],
  "labelExpr": "minutes(datum.value) == 59 ? '23:59' : ((minutes(datum.value) == 0 && hours(datum.value) % 2 == 0) ? timeFormat(datum.value, '%H:%M') : '')",
  "tickSize": {"condition": {"test": "minutes(datum.value) == 59 || (minutes(datum.value) == 0 && hours(datum.value) % 2 == 0)", "value": 6}, "value": 3},
  "labelOverlap": false, "labelFlush": false, "labelBound": false,
  "domain": false, "offset": 2, "grid": false,
  "tickColor": "black", "tickWidth": 1,
  "labelColor": "black", "labelFontSize": 11, "labelPadding": 2,
  "title": "Time", "titleFontSize": 11, "titleFontWeight": "normal", "titleColor": "black", "titlePadding": 6
 }},
"y": {"field": "value", "type": "quantitative",
 "scale": {"domain": [-5, 60], "nice": false, "zero": false},
 "axis": {
  "values": [-5,0,5,10,15,20,25,30,35,40,45,50,55,60],
  "domainColor": "black", "tickColor": "black", "tickSize": 5,
  "labelColor": "black", "labelFontSize": 11, "labelPadding": 2,
  "grid": true, "gridColor": "black", "gridOpacity": {"condition": {"test": "datum.value == 60", "value": 1}, "value": 0},
  "title": "NOx Concentration (ppb)", "titleFontSize": 11, "titleFontWeight": "normal", "titleColor": "black", "titlePadding": 7
 }}
},
"layer": [
 {"mark": {"type": "point", "filled": true, "opacity": 0, "size": 1},
  "encoding": {
   "fill": {"field": "value", "type": "quantitative",
    "scale": {"range": ["rgba(255,255,255,0)", "rgba(255,255,255,0)"]},
    "legend": {"type": "gradient", "direction": "vertical", "orient": "none", "legendX": -62.5, "legendY": -8.5, "zindex": 1,
      "gradientLength": 299, "gradientThickness": 798, "gradientStrokeColor": "#a0a0a0", "gradientStrokeWidth": 1,
      "values": [], "labelExpr": "''", "labelOpacity": 0, "title": null, "padding": 0}}}},
 {"mark": {"type": "line", "strokeWidth": 1},
  "encoding": {
   "color": {"field": "series", "type": "nominal",
    "scale": {"domain": ["NO", "NO2", "NOx"], "range": ["#000000", "#ff4545", "#00ff00"]},
    "legend": {"orient": "none", "legendX": 667, "legendY": -79, "title": null, "padding": 6, "zindex": 2,
      "strokeColor": "#8c8c8c", "fillColor": "white",
      "symbolType": "M31,-8.5 M62,8.5 M33,3.5 L41,-4.5 L50,4 L58,-4.5 L61,-1.5", "symbolSize": 4, "symbolStrokeWidth": 1,
      "labelFontSize": 11, "labelColor": "black", "labelOffset": -9, "rowPadding": 3.5}},
   "opacity": {"field": "series", "type": "ordinal",
    "scale": {"domain": ["NOx", "NO2", "NO"], "range": [1, 1, 1]},
    "legend": {"orient": "none", "legendX": 667, "legendY": -79, "title": null, "padding": 6, "zindex": 3,
      "symbolType": "M31,-8.5 H62 V8.5 H31 Z", "symbolSize": 4, "symbolStrokeWidth": 1, "symbolStrokeColor": "black", "symbolFillColor": "transparent",
      "labelFontSize": 11, "labelExpr": "''", "labelOffset": -9, "rowPadding": 3.5}}}}
]
}
